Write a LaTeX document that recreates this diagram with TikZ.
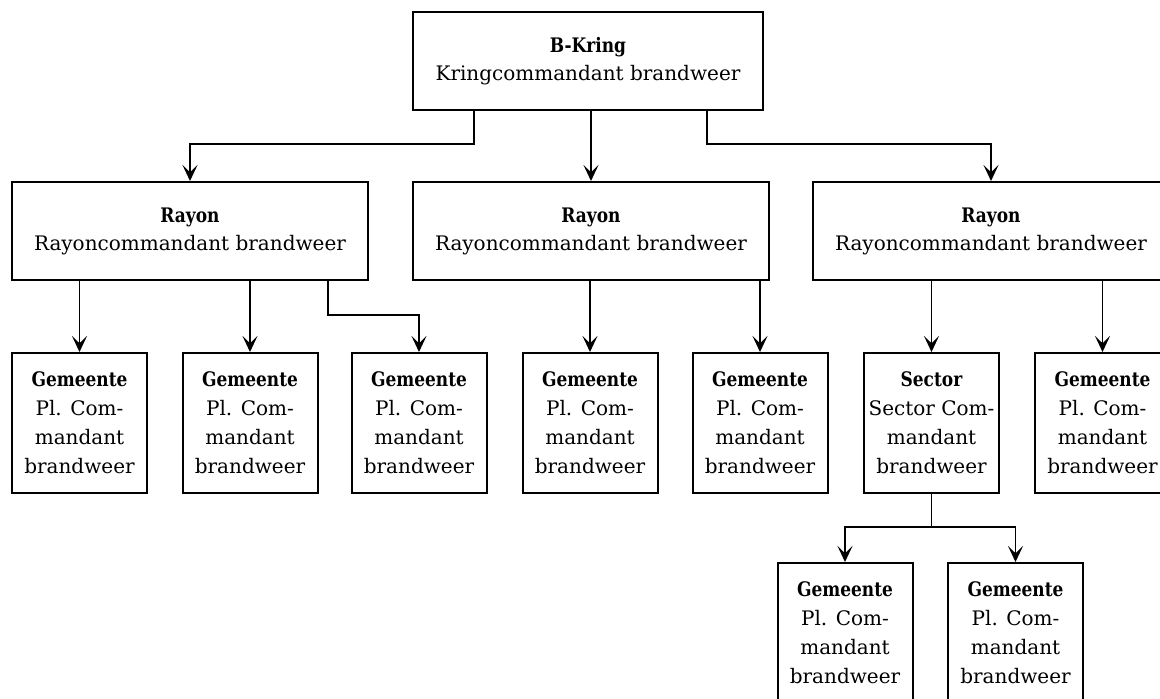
\documentclass[tikz,border=0pt]{standalone}
\usepackage{fontspec}
\setmainfont{DejaVu Serif}[BoldFeatures={FakeStretch=0.85}]
\usetikzlibrary{arrows.meta}

\begin{document}
\begin{tikzpicture}
      [x=0.5pt, y=-0.5pt,
        box/.style={draw, line width=1pt, inner sep=0pt, align=center},
        rayonbox/.style={box, minimum width=178pt, minimum height=49pt,
          font=\fontsize{10}{14}\selectfont},
        unitbox/.style={box, minimum width=67.5pt, minimum height=70pt,
          font=\fontsize{10}{14.5}\selectfont},
        arr/.style={-{Stealth[length=8pt, width=7.5pt, inset=3.6pt]}, line width=0.9pt}]
    \clip (0,0) rectangle (1160,698);
    % top level
    \node[rayonbox, minimum width=175pt] (kring) at (588,61)
      {\textbf{B-Kring}\\Kringcommandant brandweer};
    % rayons
    \node[rayonbox] (r1) at (190,231) {\textbf{Rayon}\\Rayoncommandant brandweer};
    \node[rayonbox] (r2) at (591,231) {\textbf{Rayon}\\Rayoncommandant brandweer};
    \node[rayonbox] (r3) at (991,231) {\textbf{Rayon}\\Rayoncommandant brandweer};
    % gemeenten and sector
    \node[unitbox] (g1) at (79.5,423) {\textbf{Gemeente}\\Pl. Com-\\mandant\\brandweer};
    \node[unitbox] (g2) at (250,423) {\textbf{Gemeente}\\Pl. Com-\\mandant\\brandweer};
    \node[unitbox] (g3) at (419,423) {\textbf{Gemeente}\\Pl. Com-\\mandant\\brandweer};
    \node[unitbox] (g4) at (590,423) {\textbf{Gemeente}\\Pl. Com-\\mandant\\brandweer};
    \node[unitbox] (g5) at (760,423) {\textbf{Gemeente}\\Pl. Com-\\mandant\\brandweer};
    \node[unitbox] (sec) at (931.5,423) {\textbf{Sector}\\Sector Com-\\mandant\\brandweer};
    \node[unitbox] (g7) at (1102.5,423) {\textbf{Gemeente}\\Pl. Com-\\mandant\\brandweer};
    \node[unitbox] (g8) at (845,633) {\textbf{Gemeente}\\Pl. Com-\\mandant\\brandweer};
    \node[unitbox] (g9) at (1015.5,633) {\textbf{Gemeente}\\Pl. Com-\\mandant\\brandweer};
    % connectors
    \draw[arr] ([xshift=-57pt]kring.south) -- ++(0,33) -| (r1.north);
    \draw[arr] (kring.south -| r2.north) -- (r2.north);
    \draw[arr] ([xshift=59.5pt]kring.south) -- ++(0,33) -| (r3.north);
    \draw[arr] (r1.south -| g1.north) -- (g1.north);
    \draw[arr] (r1.south -| g2.north) -- (g2.north);
    \draw[arr] ([xshift=69pt]r1.south) -- ++(0,34) -| (g3.north);
    \draw[arr] (r2.south -| g4.north) -- (g4.north);
    \draw[arr] (r2.south -| g5.north) -- (g5.north);
    \draw[arr] (r3.south -| sec.north) -- (sec.north);
    \draw[arr] (r3.south -| g7.north) -- (g7.north);
    \draw[arr] (sec.south) -- ++(0,33) -| (g8.north);
    \draw[arr] (sec.south) ++(0,33) -| (g9.north);
\end{tikzpicture}
\end{document}
